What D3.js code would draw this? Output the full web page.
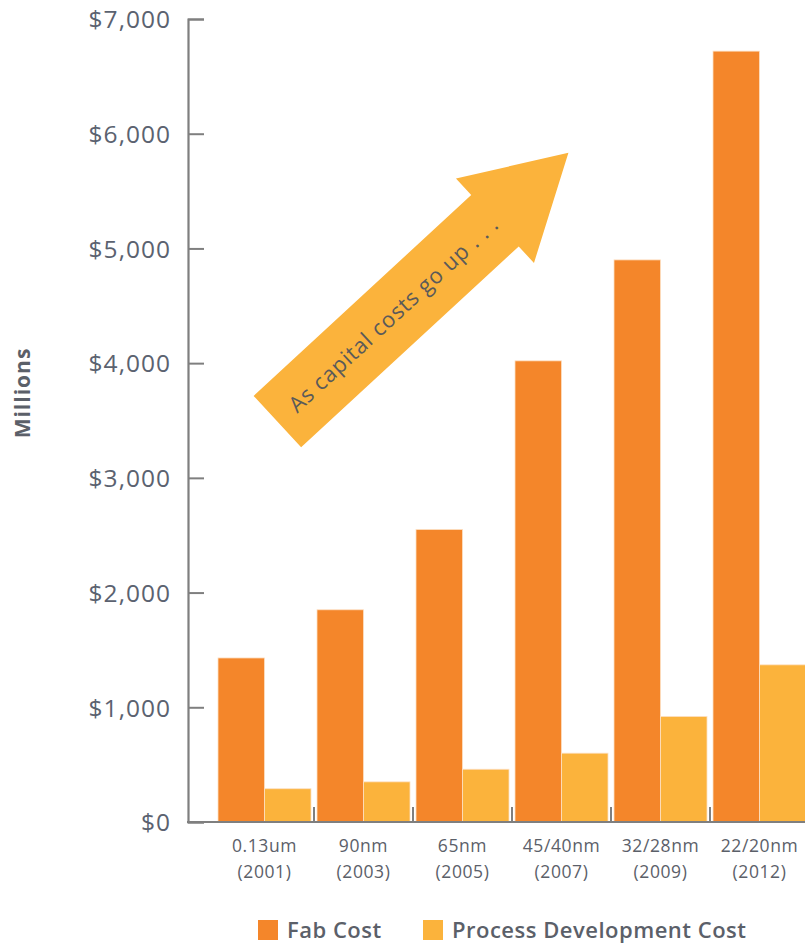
<!DOCTYPE html>
<html>
<head>
<meta charset="utf-8">
<script src="https://cdn.jsdelivr.net/npm/d3@7"></script>
<style>
  body { margin: 0; background: #fff; }
  text { font-family: "Open Sans", sans-serif; fill: #5b6069; }
</style>
</head>
<body>
<div id="chart"></div>
<script>
// DATA
const nodes = ["0.13um", "90nm", "65nm", "45/40nm", "32/28nm", "22/20nm"];
const years = ["(2001)", "(2003)", "(2005)", "(2007)", "(2009)", "(2012)"];
const fabCost = [1430, 1850, 2550, 4020, 4900, 6720];
const processDevCost = [290, 350, 460, 600, 920, 1370];
const seriesNames = ["Fab Cost", "Process Development Cost"];
const yTicks = [0, 1000, 2000, 3000, 4000, 5000, 6000, 7000];
const arrowNote = "As capital costs go up . . .";

const w = 805, h = 944;
const colors = ["#f4862a", "#fbb33c"];

const svg = d3.select("#chart").append("svg")
    .attr("width", w)
    .attr("height", h);

// SCALES
const y = d3.scaleLinear().domain([0, 7000]).range([822, 19]);
const x = d3.scaleBand().domain(nodes).range([215, 809]).paddingInner(0).paddingOuter(0);
const x1 = d3.scaleBand().domain(seriesNames).range([3, x.bandwidth() - 3]);
// position along the categories, in band units (for the annotation)
const xPos = (t) => x.range()[0] + t * x.step();

const table = nodes.map((n, i) => ({ node: n, year: years[i], values: [fabCost[i], processDevCost[i]] }));

// BARS
const groups = svg.append("g").selectAll("g")
    .data(table).enter().append("g")
    .attr("transform", (d) => "translate(" + x(d.node) + ",0)");

groups.selectAll("rect")
    .data((d) => d.values.map((v, k) => ({ key: seriesNames[k], value: v, k: k })))
    .enter().append("rect")
    .attr("x", (d) => x1(d.key))
    .attr("width", x1.bandwidth())
    .attr("y", (d) => y(d.value))
    .attr("height", (d) => y(0) - y(d.value))
    .attr("fill", (d) => colors[d.k])
    .attr("stroke", "#fde0c4")
    .attr("stroke-width", 0.8);

// Y AXIS
const yAxis = svg.append("g")
    .attr("transform", "translate(188,0)")
    .call(d3.axisRight(y).tickValues(yTicks).tickSize(16).tickFormat((d) => "$" + d3.format(",")(d)));
yAxis.select(".domain").attr("stroke", "#7f7f7f").attr("stroke-width", 2.2);
yAxis.selectAll(".tick line").attr("stroke", "#7f7f7f").attr("stroke-width", 2);
yAxis.selectAll(".tick text")
    .attr("x", -17)
    .attr("text-anchor", "end")
    .attr("dy", "0.36em")
    .style("font-size", "24.5px")
    .style("letter-spacing", "1px")
    .style("fill", "#5b6270");

// X AXIS
svg.append("line")
    .attr("x1", 187).attr("x2", 809)
    .attr("y1", y(0)).attr("y2", y(0))
    .attr("stroke", "#7f7f7f").attr("stroke-width", 2.2);

svg.append("g").selectAll("line")
    .data(nodes.slice(1)).enter().append("line")
    .attr("x1", (d) => x(d)).attr("x2", (d) => x(d))
    .attr("y1", y(0) - 15).attr("y2", y(0))
    .attr("stroke", "#7f7f7f").attr("stroke-width", 2);

const xl = svg.append("g").selectAll("text")
    .data(table).enter().append("text")
    .attr("text-anchor", "middle")
    .style("font-size", "17.5px")
    .style("letter-spacing", "0.6px");
xl.append("tspan")
    .attr("x", (d) => x(d.node) + x.bandwidth() / 2)
    .attr("y", 852)
    .text((d) => d.node);
xl.append("tspan")
    .attr("x", (d) => x(d.node) + x.bandwidth() / 2)
    .attr("y", 878)
    .text((d) => d.year);

// AXIS LABEL
svg.append("text")
    .text("Millions")
    .attr("transform", "translate(30,393) rotate(-90)")
    .attr("text-anchor", "middle")
    .style("font-size", "21px")
    .style("letter-spacing", "1px")
    .style("font-weight", "bold");

// ARROW annotation (tail and tip given in category units / dollars)
const tail = [xPos(0.63), y(3490)];
const tip = [xPos(3.57), y(5833)];
const dx = tip[0] - tail[0], dy = tip[1] - tail[1];
const len = Math.sqrt(dx * dx + dy * dy);
const ang = Math.atan2(dy, dx) * 180 / Math.PI;
const shaftW = 70, headW = 115, headL = 100;
const arrowPts = [
    [0, -shaftW / 2], [len - headL, -shaftW / 2], [len - headL, -headW / 2],
    [len, 0], [len - headL, headW / 2], [len - headL, shaftW / 2], [0, shaftW / 2]
];
const arrow = svg.append("g")
    .attr("transform", "translate(" + tail[0] + "," + tail[1] + ") rotate(" + ang + ")");
arrow.append("path")
    .attr("d", d3.line()(arrowPts) + "Z")
    .attr("fill", "#fbb33c");
arrow.append("text")
    .text(arrowNote)
    .attr("x", 158)
    .attr("y", 0)
    .attr("dy", "0.35em")
    .attr("text-anchor", "middle")
    .style("font-size", "22px")
    .style("letter-spacing", "0.8px")
    .style("fill", "#5a5a5a");

// LEGEND
const legend = svg.append("g").attr("transform", "translate(258,930)");
const legX = [0, 165];
seriesNames.forEach((name, i) => {
    legend.append("rect")
        .attr("x", legX[i]).attr("y", -10)
        .attr("width", 20).attr("height", 20)
        .attr("fill", colors[i]);
    legend.append("text")
        .text(name)
        .attr("x", legX[i] + 29)
        .attr("dy", "0.36em")
        .style("font-size", "22px")
        .style("letter-spacing", "0.5px")
        .style("font-weight", 600);
});
</script>
</body>
</html>
